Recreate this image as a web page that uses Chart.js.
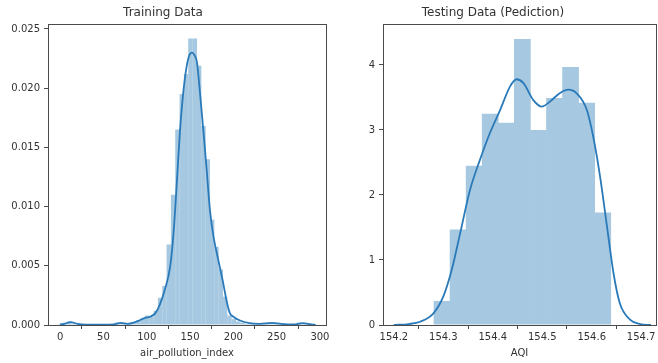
<!DOCTYPE html>
<html>
<head>
<meta charset="utf-8">
<script src="https://cdn.jsdelivr.net/npm/chart.js@4.4.1/dist/chart.umd.min.js"></script>
<style>
  body { margin: 0; background: #fff; }
  canvas { position: absolute; top: 0; }
</style>
</head>
<body>
<canvas id="trainChart" width="330" height="363" style="left:0"></canvas>
<canvas id="testChart" width="328" height="363" style="left:330px"></canvas>
<script>
// Training data: histogram (bin centres, density) + KDE curve
const trainBins = [0.5, 5.5, 10.5, 15.5, 20.5, 25.5, 30.5, 35.5, 40.5, 45.5, 50.5, 55.5,
    60.5, 65.5, 70.5, 75.5, 80.5, 85.5, 90.5, 95.5, 100.5, 105.5, 110.5, 115.5, 120.5,
    125.5, 130.5, 135.5, 140.5, 145.5, 150.5, 155.5, 160.5, 165.5, 170.5, 175.5, 180.5,
    185.5, 190.5, 195.5, 200.5, 205.5, 210.5, 215.5, 220.5, 225.5, 230.5, 235.5, 240.5,
    245.5, 250.5, 255.5, 260.5, 265.5, 270.5, 275.5, 280.5, 285.5, 290.5];
const trainHist = [0.0001, 0.0002, 0.0003, 0.0001, 0, 0, 0, 0, 0, 0, 0, 0,
    0.0001, 0.0002, 0.0002, 0.0001, 0.0001, 0.0002, 0.0004, 0.0006, 0.0008, 0.0007, 0.0012, 0.0023, 0.0033,
    0.0068, 0.0110, 0.0165, 0.0195, 0.0212, 0.0242, 0.0242, 0.0219, 0.0168, 0.0140, 0.0089, 0.0066,
    0.0047, 0.0024, 0.0008, 0.0005, 0.0003, 0.0002, 0.0001, 0.0001, 0.0001, 0.0001, 0.0001, 0.0002,
    0.0002, 0.0001, 0.0001, 0, 0, 0.0001, 0.0002, 0.0001, 0.0001, 0.0001];
const trainKdeX = [0, 5, 12, 20, 30, 50, 62, 70, 78, 85, 92, 98, 104, 110, 115, 121, 127, 131, 135,
    138.5, 142, 146, 150, 152.5, 155, 158, 161.5, 165.3, 169.2, 173, 177, 182.6, 188.4, 192.3,
    196, 200, 207, 219, 230, 245, 255, 270, 280, 290, 295];
const trainKdeY = [0.00005, 0.0001, 0.00025, 0.0001, 0.00003, 0.00002, 0.00005, 0.00018, 0.0001,
    0.0002, 0.0004, 0.0006, 0.0007, 0.001, 0.0017, 0.003, 0.0049, 0.0078, 0.0123,
    0.0165, 0.0195, 0.0218, 0.0229, 0.0230, 0.0228, 0.0222, 0.0196, 0.0165, 0.0131, 0.0097,
    0.0075, 0.0055, 0.0035, 0.0020, 0.0010, 0.0007, 0.0004, 0.00015, 0.0001, 0.00018, 0.0001,
    0.00005, 0.00015, 0.00005, 0.00001];
const trainXTicks = [0, 50, 100, 150, 200, 250, 300];
const trainYTicks = [0, 0.005, 0.010, 0.015, 0.020, 0.025];

// Testing data (prediction)
const testBins = [154.2973, 154.3298, 154.3623, 154.3948, 154.4273, 154.4598, 154.4923,
    154.5248, 154.5573, 154.5898, 154.6223];
const testHist = [0.37, 1.47, 2.45, 3.25, 3.11, 4.40, 3.00, 3.49, 3.97, 3.42, 1.73];
const testKdeX = [154.200, 154.230, 154.253, 154.280, 154.300, 154.317, 154.334, 154.354, 154.374,
    154.394, 154.415, 154.435, 154.448, 154.462, 154.482, 154.499, 154.516, 154.536, 154.553,
    154.570, 154.590, 154.603, 154.617, 154.631, 154.644, 154.657, 154.678, 154.698, 154.720];
const testKdeY = [0.0, 0.015, 0.05, 0.18, 0.44, 0.85, 1.41, 2.08, 2.54, 2.95, 3.31, 3.67, 3.78,
    3.72, 3.46, 3.36, 3.44, 3.57, 3.62, 3.56, 3.31, 2.90, 2.28, 1.51, 0.80, 0.33, 0.08, 0.015, 0.0];
const testXTicks = [154.2, 154.3, 154.4, 154.5, 154.6, 154.7];
const testYTicks = [0, 1, 2, 3, 4];

const barColor = '#a6c9e1'; // C0 at 40% on white, kept opaque so bars don't seam
const lineColor = '#2a7ab9';
const spineColor = '#4a4a4a';
const textColor = '#333';
const fontFamily = '"DejaVu Sans", sans-serif';

// draws all four spines like matplotlib
const framePlugin = {
    id: 'frame',
    afterDraw(chart) {
        const { ctx, chartArea: a } = chart;
        ctx.save();
        ctx.strokeStyle = spineColor;
        ctx.lineWidth = 1;
        ctx.strokeRect(Math.round(a.left) + 0.5, Math.round(a.top) + 0.5,
            Math.round(a.right - a.left), Math.round(a.bottom - a.top));
        ctx.restore();
    }
};

function makeChart(id, opts) {
    const ctx = document.getElementById(id).getContext('2d');
    return new Chart(ctx, {
        type: 'bar',
        data: {
            datasets: [
                {
                    type: 'line',
                    data: opts.kdeX.map((x, i) => ({ x: x, y: opts.kdeY[i] })),
                    borderColor: lineColor,
                    borderWidth: 1.8,
                    pointRadius: 0,
                    cubicInterpolationMode: 'monotone',
                    fill: false
                },
                {
                    type: 'bar',
                    data: opts.bins.map((x, i) => ({ x: x, y: opts.hist[i] })),
                    backgroundColor: barColor,
                    borderWidth: 0,
                    barPercentage: 1.04,
                    categoryPercentage: 1
                }
            ]
        },
        options: {
            responsive: false,
            animation: false,
            layout: { padding: { left: 0, right: opts.padRight, top: 0, bottom: 0 } },
            plugins: {
                legend: { display: false },
                tooltip: { enabled: false },
                title: {
                    display: true,
                    text: opts.title,
                    color: textColor,
                    font: { family: fontFamily, size: 12, weight: 'normal' },
                    padding: { top: 5.5, bottom: 4.1 }
                }
            },
            scales: {
                x: {
                    type: 'linear',
                    offset: false,
                    min: opts.xMin,
                    max: opts.xMax,
                    afterBuildTicks(s) { s.ticks = opts.xTicks.map(v => ({ value: v })); },
                    afterFit(s) { s.height = 38; s.paddingLeft = 0; s.paddingRight = 0; },
                    ticks: {
                        color: textColor,
                        font: { family: fontFamily, size: 10 },
                        padding: 2,
                        maxRotation: 0,
                        autoSkip: false,
                        callback: opts.xFmt
                    },
                    grid: { display: true, drawOnChartArea: false, drawTicks: true, tickLength: 4, color: spineColor },
                    border: { display: false },
                    title: {
                        display: true,
                        text: opts.xLabel,
                        color: textColor,
                        font: { family: fontFamily, size: 10 },
                        padding: { top: 0, bottom: 4 }
                    }
                },
                y: {
                    min: 0,
                    max: opts.yMax,
                    afterBuildTicks(s) { s.ticks = opts.yTicks.map(v => ({ value: v })); },
                    afterFit(s) { s.width = opts.yWidth; s.paddingTop = 0; s.paddingBottom = 0; },
                    ticks: {
                        color: textColor,
                        font: { family: fontFamily, size: 10 },
                        padding: 4,
                        callback: opts.yFmt
                    },
                    grid: { display: true, drawOnChartArea: false, drawTicks: true, tickLength: 4, color: spineColor },
                    border: { display: false }
                }
            }
        },
        plugins: [framePlugin]
    });
}

const trainChart = makeChart('trainChart', {
    title: 'Training Data',
    xLabel: 'air_pollution_index',
    bins: trainBins, hist: trainHist, kdeX: trainKdeX, kdeY: trainKdeY,
    xTicks: trainXTicks, yTicks: trainYTicks,
    xMin: -14, xMax: 307, yMax: 0.02542,
    yWidth: 48, padRight: 4,
    xFmt: v => String(v),
    yFmt: v => v.toFixed(3)
});

const testChart = makeChart('testChart', {
    title: 'Testing Data (Pediction)',
    xLabel: 'AQI',
    bins: testBins, hist: testHist, kdeX: testKdeX, kdeY: testKdeY,
    xTicks: testXTicks, yTicks: testYTicks,
    xMin: 154.178, xMax: 154.73, yMax: 4.63,
    yWidth: 53, padRight: 2,
    xFmt: v => v.toFixed(1),
    yFmt: v => String(v)
});
</script>
</body>
</html>
